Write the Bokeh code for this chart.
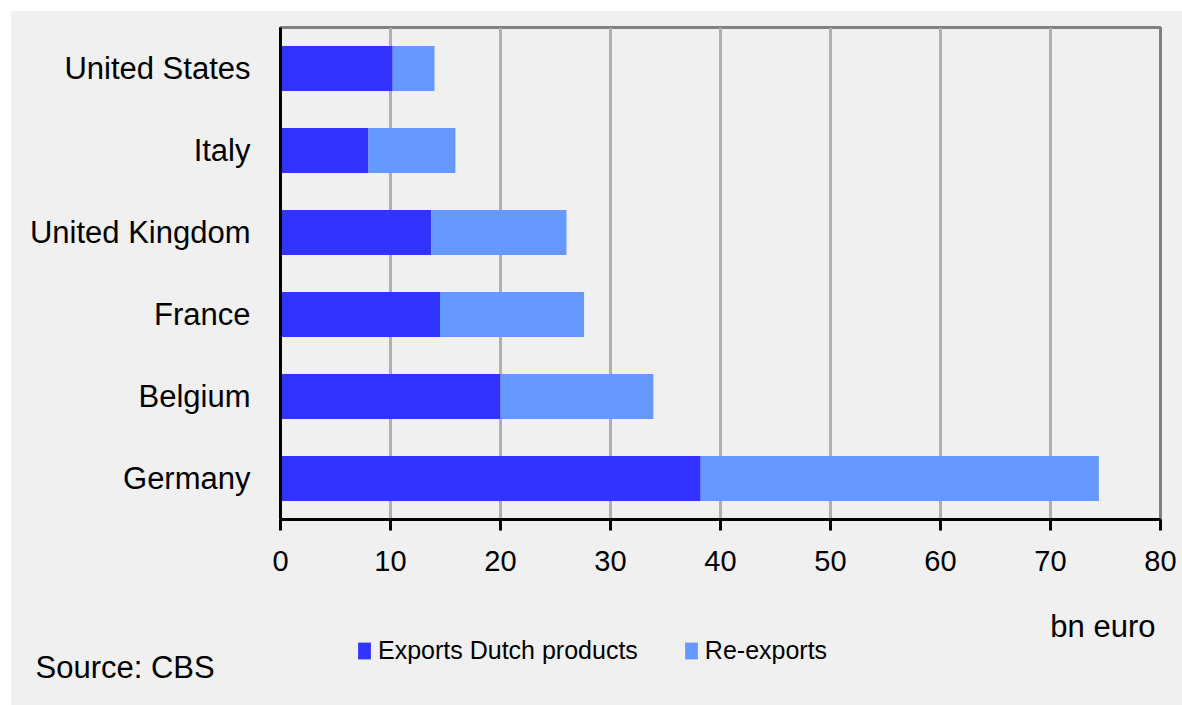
from bokeh.plotting import figure
from bokeh.layouts import column
from bokeh.models import (ColumnDataSource, FactorRange, Range1d, FixedTicker, Legend,
                          LegendItem, Label)
from bokeh.embed import file_html
from bokeh.resources import INLINE

# ---- data ----
countries = ["Germany", "Belgium", "France", "United Kingdom", "Italy", "United States"]
exports_dutch = [38.2, 20.0, 14.5, 13.7, 8.0, 10.2]
re_exports = [36.2, 13.9, 13.1, 12.3, 7.9, 3.8]
series_names = ["Exports Dutch products", "Re-exports"]
series_colors = ["#3333FF", "#6699FF"]
x_ticks = [0, 10, 20, 30, 40, 50, 60, 70, 80]
unit_label = "bn euro"
source_label = "Source: CBS"

FONT = "Liberation Sans"
BG = "#F0F0F0"
W = 1171

source = ColumnDataSource(dict(country=countries, exports=exports_dutch, reexports=re_exports))

# ---- main chart ----
p = figure(width=W, height=579, output_backend="svg", toolbar_location=None,
           y_range=FactorRange(*countries, range_padding=0),
           x_range=Range1d(0, 80),
           min_border_left=269, min_border_right=22, min_border_top=16, min_border_bottom=71)
p.frame_align = False

p.background_fill_color = BG
p.border_fill_color = BG
p.outline_line_color = "#808080"
p.outline_line_width = 3

renderers = p.hbar_stack(["exports", "reexports"], y="country", height=0.55,
                         color=series_colors, line_color=None, source=source)

p.ygrid.grid_line_color = None
p.xgrid.grid_line_color = "#B0B0B0"
p.xgrid.grid_line_width = 3
p.xgrid.ticker = FixedTicker(ticks=x_ticks)

xa = p.xaxis[0]
xa.ticker = FixedTicker(ticks=x_ticks)
xa.axis_line_color = "black"
xa.axis_line_width = 3
xa.major_tick_line_color = "black"
xa.major_tick_line_width = 3
xa.major_tick_out = 11
xa.major_tick_in = 0
xa.minor_tick_line_color = None
xa.major_label_text_font = FONT
xa.major_label_text_font_size = "29px"
xa.major_label_text_color = "black"
xa.major_label_standoff = 20

ya = p.yaxis[0]
ya.axis_line_color = "black"
ya.axis_line_width = 3
ya.major_tick_line_color = None
ya.minor_tick_line_color = None
ya.major_label_text_font = FONT
ya.major_label_text_font_size = "31px"
ya.major_label_text_color = "black"
ya.major_label_standoff = 24

# ---- footer strip: unit, legend, source ----
H2 = 115
f = figure(width=W, height=H2, output_backend="svg", toolbar_location=None,
           x_range=Range1d(0, W), y_range=Range1d(0, H2),
           x_axis_type=None, y_axis_type=None, min_border=0)
f.frame_align = False
f.background_fill_color = BG
f.border_fill_color = BG
f.outline_line_color = None
f.grid.grid_line_color = None

# invisible legend swatches (no drawable coordinates)
nan = float("nan")
proxies = [f.hbar(y=[nan], right=[nan], height=1, color=c, line_color=None)
           for c in series_colors]

f.add_layout(Label(x=1144, y=79, text=unit_label, text_align="right",
                   text_baseline="alphabetic", text_font=FONT, text_font_size="31px",
                   text_color="black"))
f.add_layout(Label(x=24, y=38, text=source_label, text_align="left",
                   text_baseline="alphabetic", text_font=FONT, text_font_size="31px",
                   text_color="black"))

leg = Legend(items=[LegendItem(label=n, renderers=[r]) for n, r in zip(series_names, proxies)],
             location=(345, 40), orientation="horizontal",
             padding=0, margin=0, spacing=45,
             glyph_width=16, glyph_height=21, label_standoff=6,
             label_text_font=FONT, label_text_font_size="25px",
             label_text_color="black", label_height=21,
             border_line_color=None, background_fill_alpha=0)
f.add_layout(leg, "center")

layout = column(p, f, spacing=0)
layout.styles = {"margin-left": "11px", "margin-top": "11px", "background-color": BG}

open("out.html", "w").write(file_html(layout, INLINE))
